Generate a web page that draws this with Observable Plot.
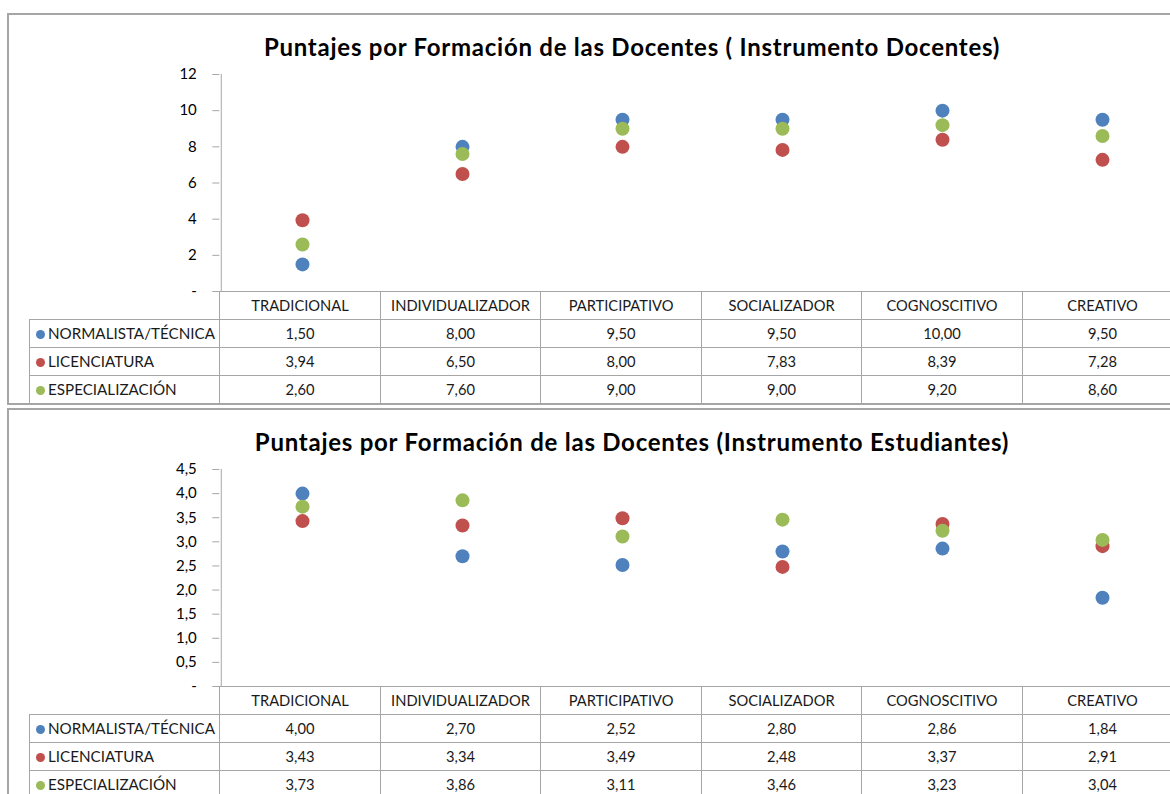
<!DOCTYPE html>
<html><head><meta charset="utf-8">
<script src="https://cdn.jsdelivr.net/npm/d3@7"></script>
<script src="https://cdn.jsdelivr.net/npm/@observablehq/plot@0.6"></script>
<style>
body{margin:0;background:#fff;overflow:hidden;font-family:Lato,sans-serif}
#page{position:relative;width:1170px;height:794px;overflow:hidden;background:#fff}
.frame{position:absolute;left:7px;width:1220px;border:2px solid #a6a6a6;box-sizing:border-box}
.title{position:absolute;left:0;width:1264px;text-align:center;font-weight:bold;font-size:24px;letter-spacing:0.75px;color:#000;line-height:28px;white-space:nowrap}
svg.chart{position:absolute;left:0;max-width:none !important}
table.dt{position:absolute;left:29px;border-collapse:collapse;table-layout:fixed;font-size:14.7px;color:#1a1a1a}
table.dt td{border:1px solid #a6a6a6;padding:0;height:27px;text-align:center;white-space:nowrap;overflow:hidden}
table.dt td.leg{text-align:left;padding-left:6px;font-size:15.2px}
table.dt td.blank{border-left:none;border-top:none}
.mk{display:inline-block;width:9px;height:9px;border-radius:50%;margin-right:3px;vertical-align:0px}
</style>
</head><body>
<div id="page"></div>
<script>
const categories = ["TRADICIONAL","INDIVIDUALIZADOR","PARTICIPATIVO","SOCIALIZADOR","COGNOSCITIVO","CREATIVO"];
const series = ["NORMALISTA/TÉCNICA","LICENCIATURA","ESPECIALIZACIÓN"];
const colors = ["#4F81BD","#C0504D","#9BBB59"];

const docentesNormalista = [1.50, 8.00, 9.50, 9.50, 10.00, 9.50];
const docentesLicenciatura = [3.94, 6.50, 8.00, 7.83, 8.39, 7.28];
const docentesEspecializacion = [2.60, 7.60, 9.00, 9.00, 9.20, 8.60];

const estudiantesNormalista = [4.00, 2.70, 2.52, 2.80, 2.86, 1.84];
const estudiantesLicenciatura = [3.43, 3.34, 3.49, 2.48, 3.37, 2.91];
const estudiantesEspecializacion = [3.73, 3.86, 3.11, 3.46, 3.23, 3.04];

const ticksDocentes = [0, 2, 4, 6, 8, 10, 12];
const ticksEstudiantes = [0, 0.5, 1, 1.5, 2, 2.5, 3, 3.5, 4, 4.5];

const title1 = "Puntajes por Formación de las Docentes ( Instrumento Docentes)";
const title2 = "Puntajes por Formación de las Docentes (Instrumento Estudiantes)";

const page = document.getElementById("page");
const colW = 160.5, legW = 190.3, axisX = 219.3;

function fmt2(v){ return v.toFixed(2).replace(".", ","); }

function addChart(top, title, values, ticks, tickFmt){
  const frame = document.createElement("div");
  frame.className = "frame";
  frame.style.top = top + "px";
  frame.style.height = "392px";
  page.appendChild(frame);

  const t = document.createElement("div");
  t.className = "title";
  t.textContent = title;
  t.style.top = (top + 20) + "px";
  page.appendChild(t);

  const data = series.flatMap((s, i) => categories.map((c, j) => ({serie: s, cat: c, value: values[i][j]})));
  const yMax = ticks[ticks.length - 1];
  const svg = Plot.plot({
    width: 1183, height: 241,
    marginTop: 14, marginBottom: 10, marginLeft: axisX, marginRight: 1183 - axisX - 6 * colW,
    x: {type: "band", domain: categories, padding: 0, axis: null},
    y: {domain: [0, yMax], axis: null},
    color: {domain: series, range: colors},
    style: {fontFamily: "Lato, sans-serif", fontSize: "15px", color: "#000", background: "transparent", overflow: "visible", maxWidth: "none"},
    marks: [
      Plot.axisY({ticks, tickSize: 7, tickPadding: 16, tickFormat: tickFmt, stroke: "#a6a6a6", fill: "#000", label: null}),
      Plot.ruleX([categories[0]], {dx: -colW / 2, y1: 0, y2: yMax, stroke: "#a6a6a6"}),
      Plot.dot(data, {x: "cat", y: "value", fill: "serie", r: 7, dx: 1})
    ]
  });
  svg.classList.add("chart");
  svg.style.top = (top + 47) + "px";
  page.appendChild(svg);

  const table = document.createElement("table");
  table.className = "dt";
  table.style.top = (top + 277.5) + "px";
  table.style.width = (legW + 6 * colW) + "px";
  const cg = document.createElement("colgroup");
  [legW, ...categories.map(() => colW)].forEach(w => {
    const col = document.createElement("col"); col.style.width = w + "px"; cg.appendChild(col);
  });
  table.appendChild(cg);
  const hr = document.createElement("tr");
  const blank = document.createElement("td"); blank.className = "blank"; hr.appendChild(blank);
  categories.forEach(c => { const td = document.createElement("td"); td.textContent = c; hr.appendChild(td); });
  table.appendChild(hr);
  series.forEach((s, i) => {
    const tr = document.createElement("tr");
    const lg = document.createElement("td"); lg.className = "leg";
    const mk = document.createElement("span"); mk.className = "mk"; mk.style.background = colors[i];
    lg.appendChild(mk); lg.appendChild(document.createTextNode(s));
    tr.appendChild(lg);
    values[i].forEach(v => { const td = document.createElement("td"); td.textContent = fmt2(v); tr.appendChild(td); });
    table.appendChild(tr);
  });
  page.appendChild(table);
}

addChart(13, title1, [docentesNormalista, docentesLicenciatura, docentesEspecializacion], ticksDocentes,
  d => d === 0 ? "-" : String(d));
addChart(408, title2, [estudiantesNormalista, estudiantesLicenciatura, estudiantesEspecializacion], ticksEstudiantes,
  d => d === 0 ? "-" : d.toFixed(1).replace(".", ","));
</script>
</body></html>
